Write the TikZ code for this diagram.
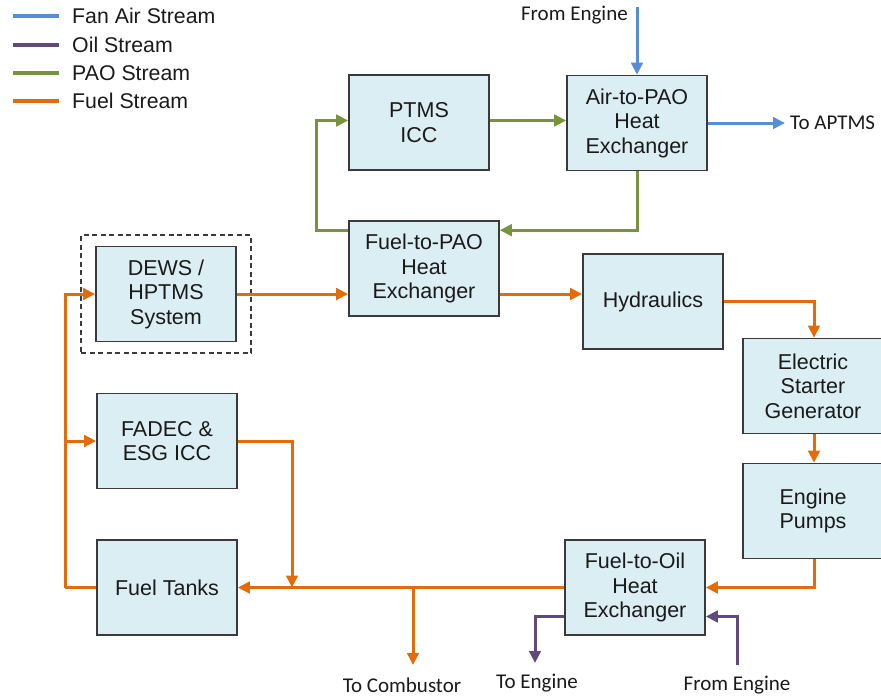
\documentclass[tikz,border=0pt]{standalone}
\usepackage{fontspec}
\setmainfont{Liberation Sans}
\newfontfamily\calfont{Carlito}
\usetikzlibrary{arrows.meta,calc}
\definecolor{fanblue}{HTML}{558ED5}
\definecolor{oilpurple}{HTML}{604A7B}
\definecolor{paogreen}{HTML}{77933C}
\definecolor{fuelorange}{HTML}{E36C09}
\definecolor{boxfill}{HTML}{DBEEF4}
\definecolor{boxline}{HTML}{3A3A3A}
\definecolor{txt}{HTML}{1A1A1A}
\tikzset{
  blk/.style={draw=boxline, fill=boxfill, line width=1.6pt, minimum width=140pt, minimum height=95pt, inner sep=0pt, align=center, text=txt, font=\fontsize{21.5}{24.5}\selectfont},
  flow/.style={line width=3pt, -{Triangle[length=12pt,width=11.5pt]}},
  plainflow/.style={line width=3pt},
  fan/.style={flow, draw=fanblue},
  oil/.style={flow, draw=oilpurple},
  pao/.style={flow, draw=paogreen},
  fuel/.style={flow, draw=fuelorange},
  fuelline/.style={plainflow, draw=fuelorange},
  lbl/.style={text=txt, font=\calfont\fontsize{21}{24}\selectfont, inner sep=0pt},
  legtxt/.style={text=txt, font=\fontsize{21.3}{24}\selectfont, inner sep=0pt, anchor=west},
  legline/.style={line width=4pt}
}
\begin{document}
\begin{tikzpicture}[x=1pt,y=-1pt]
\useasboundingbox (0,0) rectangle (881,696);
% legend
\coordinate (l1a) at (13,16); \coordinate (l1b) at (59,16);
\coordinate (l2a) at (13,45); \coordinate (l2b) at (59,45);
\coordinate (l3a) at (13,73); \coordinate (l3b) at (59,73);
\coordinate (l4a) at (13,101); \coordinate (l4b) at (59,101);
\draw[legline, fanblue] (l1a) -- (l1b);
\draw[legline, oilpurple] (l2a) -- (l2b);
\draw[legline, paogreen] (l3a) -- (l3b);
\draw[legline, fuelorange] (l4a) -- (l4b);
\node[legtxt] (lt1) at (72,16) {Fan Air Stream};
\node[legtxt] (lt2) at (72,45) {Oil Stream};
\node[legtxt] (lt3) at (72,73) {PAO Stream};
\node[legtxt] (lt4) at (72,101) {Fuel Stream};
% dashed enclosure
\node[draw=boxline, dashed, dash pattern=on 5pt off 3.5pt, line width=1.3pt, minimum width=170pt, minimum height=118pt, inner sep=0pt] (dashbox) at (166,294) {};
% boxes
\node[blk] (ptms) at (419,122.5) {PTMS\\ICC};
\node[blk] (air) at (637,123) {Air-to-PAO\\Heat\\Exchanger};
\node[blk, minimum width=150pt] (fpao) at (424,268.5) {Fuel-to-PAO\\Heat\\Exchanger};
\node[blk] (dews) at (166,294) {DEWS /\\HPTMS\\System};
\node[blk] (hyd) at (653,301.5) {Hydraulics};
\node[blk] (fadec) at (167,441) {FADEC \&\\ESG ICC};
\node[blk] (tanks) at (167,587.5) {Fuel Tanks};
\node[blk] (esg) at (813,386) {Electric\\Starter\\Generator};
\node[blk] (pumps) at (813,511) {Engine\\Pumps};
\node[blk] (foil) at (635,587.5) {Fuel-to-Oil\\Heat\\Exchanger};
% free ends and labels
\coordinate (fromtop) at (637,7);
\node[lbl, anchor=east] (fromtoplbl) at (628,15) {From Engine};
\coordinate (toaptms) at (785,123);
\node[lbl, anchor=west] (toaptmslbl) at (790,123) {To APTMS};
\coordinate (bus) at (65,587.5);
\coordinate (tee) at (413,587.5);
\coordinate (fdrop) at (292,587.5);
\coordinate (tocomb) at (413,665);
\node[lbl] (tocomblbl) at (402,685) {To Combustor};
\coordinate (toeng) at (535,663);
\node[lbl] (toenglbl) at (537,683) {To Engine};
\coordinate (fromeng) at (737,665);
\node[lbl] (fromenglbl) at (737,685) {From Engine};
% blue
\draw[fan] (fromtop) -- (air.north);
\draw[fan] (air.east) -- (toaptms);
% green
\draw[pao] ([yshift=-10pt]fpao.north west) -- ++(-32,0) |- ([yshift=2pt]ptms.west);
\draw[pao] ([yshift=2pt]ptms.east) -- ([yshift=2pt]ptms.east -| air.west);
\draw[pao] (air.south) |- ([yshift=-10pt]fpao.north east);
% orange
\draw[fuel] (dews.east) -- (dews.east -| fpao.west);
\draw[fuel] (dews.east -| fpao.east) -- (dews.east -| hyd.west);
\draw[fuel] (hyd.east) -| ([xshift=1pt]esg.north);
\draw[fuel] ([xshift=1pt]esg.south) -- ([xshift=1pt]pumps.north);
\draw[fuel] ([xshift=1pt]pumps.south) |- (foil.east);
\draw[fuel] (foil.west) -- (tanks.east);
\draw[fuel] (fadec.east) -| (fdrop);
\draw[fuelline] (tanks.west) -- (bus);
\draw[fuel] (bus) |- (dews.west);
\draw[fuel] (bus |- fadec.west) -- (fadec.west);
\draw[fuel] (tee) -- (tocomb);
% purple
\draw[oil] ([yshift=-29pt]foil.west) -| (toeng);
\draw[oil] (fromeng) |- ([yshift=-29pt]foil.east);
\end{tikzpicture}
\end{document}
